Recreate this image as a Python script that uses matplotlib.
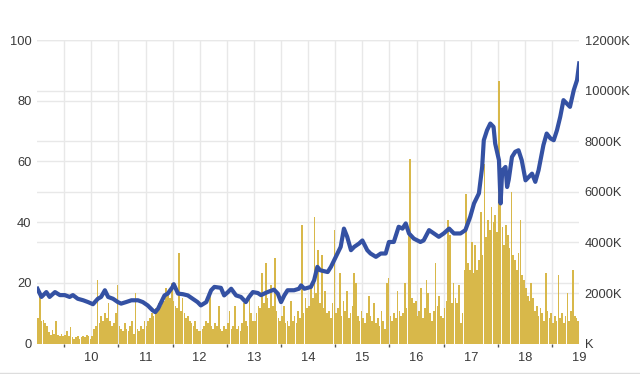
import numpy as np
import matplotlib
matplotlib.use("Agg")
import matplotlib.pyplot as plt
from matplotlib.ticker import FixedLocator

plt.rcParams['font.family'] = ['Liberation Sans', 'DejaVu Sans']

# ---- data ----
price_years = [2009.006, 2009.08, 2009.17, 2009.23, 2009.33, 2009.42, 2009.51, 2009.60, 2009.66, 2009.75,
               2009.85, 2009.94, 2010.03, 2010.12, 2010.18, 2010.25, 2010.31, 2010.40, 2010.49, 2010.55,
               2010.64, 2010.74, 2010.86, 2010.95, 2011.04, 2011.13, 2011.18, 2011.23, 2011.29, 2011.35,
               2011.41, 2011.50, 2011.52, 2011.60, 2011.69, 2011.78, 2011.87, 2011.96, 2012.02, 2012.12,
               2012.21, 2012.27, 2012.39, 2012.45, 2012.52, 2012.58, 2012.67, 2012.76, 2012.85, 2012.91,
               2012.98, 2013.07, 2013.13, 2013.25, 2013.37, 2013.44, 2013.50, 2013.56, 2013.62, 2013.74,
               2013.83, 2013.87, 2013.93, 2014.05, 2014.11, 2014.17, 2014.22, 2014.36, 2014.42, 2014.54,
               2014.60, 2014.66, 2014.72, 2014.79, 2014.85, 2014.94, 2015.00, 2015.09, 2015.15, 2015.25,
               2015.34, 2015.43, 2015.49, 2015.58, 2015.67, 2015.74, 2015.80, 2015.86, 2015.95, 2016.07,
               2016.13, 2016.23, 2016.32, 2016.41, 2016.50, 2016.60, 2016.69, 2016.81, 2016.90, 2016.99,
               2017.06, 2017.15, 2017.21, 2017.24, 2017.30, 2017.36, 2017.42, 2017.45, 2017.52, 2017.55,
               2017.58, 2017.64, 2017.67, 2017.70, 2017.76, 2017.82, 2017.88, 2017.94, 2018.01, 2018.07,
               2018.13, 2018.19, 2018.25, 2018.34, 2018.40, 2018.47, 2018.53, 2018.59, 2018.65, 2018.71,
               2018.77, 2018.83, 2018.90, 2018.96, 2019.00]
price_values = [18.1, 15.4, 17.0, 15.4, 17.0, 16.0, 16.0, 15.4, 16.0, 14.8,
                14.3, 13.7, 13.0, 14.8, 15.4, 17.6, 15.4, 14.8, 13.7, 13.2,
                13.7, 14.3, 14.3, 13.7, 12.6, 11.0, 10.4, 11.5, 13.7, 15.9,
                16.5, 18.7, 19.6, 16.5, 16.3, 15.9, 14.8, 13.7, 12.6, 13.7,
                17.6, 18.7, 18.4, 15.9, 17.0, 18.1, 15.9, 15.4, 13.7, 15.4,
                17.0, 16.7, 16.0, 17.0, 17.8, 16.5, 13.7, 15.9, 17.6, 17.6,
                18.1, 19.2, 18.1, 18.7, 20.9, 25.3, 24.2, 23.6, 25.3, 29.7,
                31.9, 37.9, 35.2, 30.8, 31.9, 33.0, 34.0, 30.8, 29.7, 28.6,
                29.7, 29.7, 33.5, 33.5, 38.5, 37.9, 39.6, 36.3, 34.6, 33.5,
                34.0, 37.4, 36.3, 35.2, 36.3, 37.9, 36.3, 36.3, 37.4, 41.8,
                46.2, 49.5, 58.2, 67.0, 70.3, 72.5, 71.4, 65.9, 60.4, 46.2,
                57.0, 58.2, 51.6, 54.0, 61.5, 63.2, 63.7, 60.4, 53.8, 54.9,
                56.0, 53.3, 57.1, 65.4, 69.2, 67.6, 67.0, 70.3, 74.7, 80.2,
                79.1, 78.0, 83.5, 86.8, 92.3]

years = [2009, 2010, 2011, 2012, 2013, 2014, 2015, 2016, 2017, 2018]
# volume (thousands), 30 samples per year
vol_2009 = [1000, 1900, 900, 950, 800, 700, 450, 350, 550, 400, 900, 350, 300, 400, 300,
            350, 500, 300, 650, 250, 200, 250, 300, 200, 250, 300, 250, 350, 300, 200]
vol_2010 = [300, 600, 700, 2500, 800, 1100, 900, 1200, 1000, 1600, 900, 700, 800, 1200, 2300,
            700, 600, 500, 800, 600, 500, 700, 900, 400, 2000, 600, 500, 700, 600, 900]
vol_2011 = [700, 900, 1000, 1200, 1100, 1400, 1300, 1600, 1500, 1900, 1700, 2200, 2000, 1800, 2400,
            1700, 1500, 1400, 3600, 1300, 1800, 1200, 1000, 1100, 900, 800, 700, 900, 600, 500]
vol_2012 = [500, 600, 700, 900, 800, 1900, 700, 600, 800, 700, 1500, 600, 500, 700, 600,
            800, 1300, 600, 700, 1500, 600, 700, 500, 800, 1600, 900, 700, 2000, 1200, 900]
vol_2013 = [900, 1200, 1500, 1400, 2800, 1600, 3200, 1800, 1400, 2300, 1500, 3400, 1300, 1000, 900,
            1100, 1500, 800, 900, 700, 1700, 900, 1100, 800, 1300, 1000, 4700, 1200, 1800, 1400]
vol_2014 = [1500, 2200, 1800, 5000, 2000, 3700, 1600, 3500, 1400, 2100, 1200, 1300, 1000, 1600, 4500,
            1200, 1400, 2800, 1100, 1700, 1300, 2100, 1000, 1200, 1500, 2800, 2400, 1100, 900, 1300]
vol_2015 = [1000, 800, 1200, 1900, 1100, 900, 1600, 800, 1000, 700, 1300, 900, 600, 2400, 2600,
            1100, 900, 1200, 1000, 2100, 1300, 1100, 1200, 2400, 1400, 4500, 7300, 1800, 1600, 1700]
vol_2016 = [1100, 1300, 2200, 1000, 1400, 2500, 2000, 1200, 900, 1300, 3200, 1500, 1900, 1100, 1000,
            1400, 1700, 4900, 4300, 1600, 2400, 1800, 1600, 2300, 800, 1200, 2900, 5900, 3200, 2900]
vol_2017 = [4000, 2800, 3900, 2900, 3300, 5200, 3500, 7100, 4200, 4900, 4500, 5400, 4800, 5100, 4400,
            10400, 5500, 4600, 3900, 4700, 4300, 3800, 6000, 3500, 3300, 2900, 3600, 4900, 2700, 2500]
vol_2018 = [2200, 1900, 1700, 2400, 1800, 1300, 1500, 1100, 1400, 1200, 900, 2800, 1300, 1000, 1200,
            800, 1100, 900, 2700, 1000, 1200, 800, 1100, 2000, 900, 1300, 2900, 1100, 1000, 900]
volume_by_year = [vol_2009, vol_2010, vol_2011, vol_2012, vol_2013,
                  vol_2014, vol_2015, vol_2016, vol_2017, vol_2018]

year_labels = ["10", "11", "12", "13", "14", "15", "16", "17", "18", "19"]
left_ticks = [0, 20, 40, 60, 80, 100]
right_ticks = [0, 2000, 4000, 6000, 8000, 10000, 12000]

# ---- figure ----
fig = plt.figure(figsize=(6.4, 3.74), dpi=100)
ax2 = fig.add_axes([0.058, 0.081, 0.847, 0.812])   # volume (right axis)
ax = fig.add_axes([0.058, 0.081, 0.847, 0.812], sharex=ax2)  # price (left axis)

grid_c = "#e8e8e8"
text_c = "#3a3a3a"
blue = "#3451a3"
gold = "#d8b84a"

# volume bars
step = 1.0 / 30
vx, vy = [], []
for y0, vals in zip(years, volume_by_year):
    for i, v in enumerate(vals):
        vx.append(y0 + (i + 0.5) * step)
        vy.append(v)
ax2.bar(vx, vy, width=step * 0.92, color=gold, linewidth=0, zorder=2)
ax2.set_ylim(0, 12000)
ax2.set_xlim(2009.0, 2019.0)

# gridlines
for t in np.arange(2009.5, 2019.0, 0.5):
    ax2.axvline(t, color=grid_c, lw=1.0, zorder=0)
for t in right_ticks[1:]:
    ax2.axhline(t, color=grid_c, lw=1.0, zorder=0)
for t in left_ticks[1:]:
    ax2.axhline(t * 120, color=grid_c, lw=1.0, zorder=0)

# price line
ax.plot(price_years, price_values, color=blue, lw=3.0, solid_joinstyle="round", zorder=3)
ax.set_ylim(0, 100)
ax.patch.set_visible(False)

# axes styling
for a in (ax, ax2):
    for s in a.spines.values():
        s.set_visible(False)

ax.yaxis.tick_left()
ax.set_yticks(left_ticks)
ax.set_yticklabels([str(t) for t in left_ticks])
ax.tick_params(axis="y", length=0, pad=4, labelsize=9.3, labelcolor=text_c)

ax2.yaxis.tick_right()
ax2.set_yticks(right_ticks)
ax2.set_yticklabels(["K" if t == 0 else f"{t}K" for t in right_ticks])
ax2.tick_params(axis="y", length=0, pad=4, labelsize=9.3, labelcolor=text_c)

ax.set_xticks([y + 1 for y in years])
ax.set_xticklabels(year_labels)
ax.xaxis.set_minor_locator(FixedLocator(list(np.arange(2009.5, 2019.0, 1.0))))
ax.tick_params(axis="x", which="major", length=0, pad=6, labelsize=9.3, labelcolor=text_c)
ax.tick_params(axis="x", which="minor", length=2, width=1, color="#555555", direction="out")
ax2.tick_params(axis="x", which="both", length=0, labelbottom=False)

# thin separator line at the bottom
fig.add_artist(plt.Line2D([0.0, 1.0], [0.004, 0.004], color="#dddddd", lw=1))

fig.savefig("out.png", dpi=100)
